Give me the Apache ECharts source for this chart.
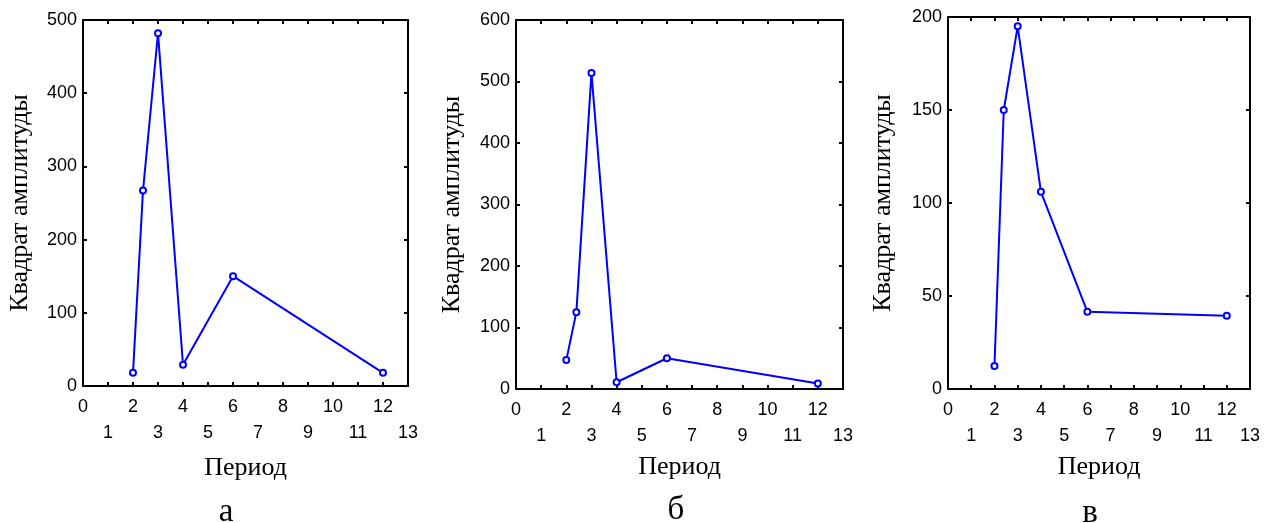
<!DOCTYPE html>
<html>
<head>
<meta charset="utf-8">
<script src="https://cdn.jsdelivr.net/npm/echarts@6/dist/echarts.min.js"></script>
<style>html,body{margin:0;padding:0;background:#fff;}#c{width:1269px;height:523px;}</style>
</head>
<body>
<div id="c"></div>
<script>
// Data
const periods = [2, 2.4, 3, 4, 6, 12];
const ampA = [18, 267, 482, 29, 150, 18];
const ampB = [47, 125, 514, 11, 50, 9];
const ampC = [12.4, 150, 195, 106, 41.5, 39.4];
const yMaxes = [500, 600, 200];
const yIntervals = [100, 100, 50];
const panelLetters = ['а', 'б', 'в'];
const xAxisName = 'Период';
const yAxisName = 'Квадрат амплитуды';

const series = [ampA, ampB, ampC];
const grids = [
  {left: 83, top: 20, width: 325, height: 366},
  {left: 516, top: 20, width: 327, height: 369},
  {left: 948, top: 17, width: 302, height: 372}
];
const xNameGap = [69, 64, 64];
const yNameGap = [50, 51, 52];
const letterPos = [[226, 512], [676, 510], [1090, 513]];

const tickFont = {fontFamily: 'Liberation Sans, Arial, sans-serif', fontSize: 18, color: '#000'};
const axisLine = {show: true, onZero: false, lineStyle: {color: '#000', width: 2}};

const xAxis = [], yAxis = [], ser = [], graphic = [];
grids.forEach((g, i) => {
  xAxis.push({
    type: 'value', gridIndex: i, position: 'bottom', min: 0, max: 13, interval: 1,
    name: xAxisName, nameLocation: 'middle', nameGap: xNameGap[i],
    nameTextStyle: {fontFamily: 'Liberation Serif, Times New Roman, serif', fontSize: 26, color: '#000'},
    axisLine: axisLine,
    axisTick: {show: true, inside: true, length: 4, lineStyle: {color: '#000', width: 2}},
    splitLine: {show: false},
    axisLabel: Object.assign({}, tickFont, {
      margin: 8, lineHeight: 26,
      formatter: v => (v % 2 === 0 ? String(v) : '\n' + v)
    })
  });
  xAxis.push({
    type: 'value', gridIndex: i, position: 'top', min: 0, max: 13, interval: 1,
    axisLine: axisLine,
    axisTick: {show: true, inside: true, length: 4, lineStyle: {color: '#000', width: 2}},
    axisLabel: {show: false}, splitLine: {show: false}
  });
  yAxis.push({
    type: 'value', gridIndex: i, position: 'left', min: 0, max: yMaxes[i], interval: yIntervals[i],
    name: yAxisName, nameLocation: 'middle', nameRotate: 90, nameGap: yNameGap[i],
    nameTextStyle: {fontFamily: 'Liberation Serif, Times New Roman, serif', fontSize: 26, color: '#000'},
    axisLine: axisLine,
    axisTick: {show: true, inside: true, length: 4, lineStyle: {color: '#000', width: 2}},
    splitLine: {show: false},
    axisLabel: Object.assign({}, tickFont, {margin: 6})
  });
  yAxis.push({
    type: 'value', gridIndex: i, position: 'right', min: 0, max: yMaxes[i], interval: yIntervals[i],
    axisLine: axisLine,
    axisTick: {show: true, inside: true, length: 4, lineStyle: {color: '#000', width: 2}},
    axisLabel: {show: false}, splitLine: {show: false}
  });
  ser.push({
    type: 'line', xAxisIndex: i * 2, yAxisIndex: i * 2,
    data: periods.map((p, k) => [p, series[i][k]]),
    symbol: 'emptyCircle', symbolSize: 6,
    lineStyle: {color: '#0000ff', width: 2},
    itemStyle: {color: '#0000ff', borderColor: '#0000ff', borderWidth: 2},
    silent: true
  });
  graphic.push({
    type: 'text', x: letterPos[i][0], y: letterPos[i][1],
    style: {text: panelLetters[i], fontFamily: 'Liberation Serif, Times New Roman, serif', fontSize: 33,
            fill: '#000', textAlign: 'center', textVerticalAlign: 'middle'}
  });
});

const chart = echarts.init(document.getElementById('c'), null, {renderer: 'canvas'});
chart.setOption({
  animation: false,
  backgroundColor: '#fff',
  grid: grids.map(g => Object.assign({containLabel: false}, g)),
  xAxis: xAxis, yAxis: yAxis, series: ser, graphic: graphic
});
</script>
</body>
</html>
